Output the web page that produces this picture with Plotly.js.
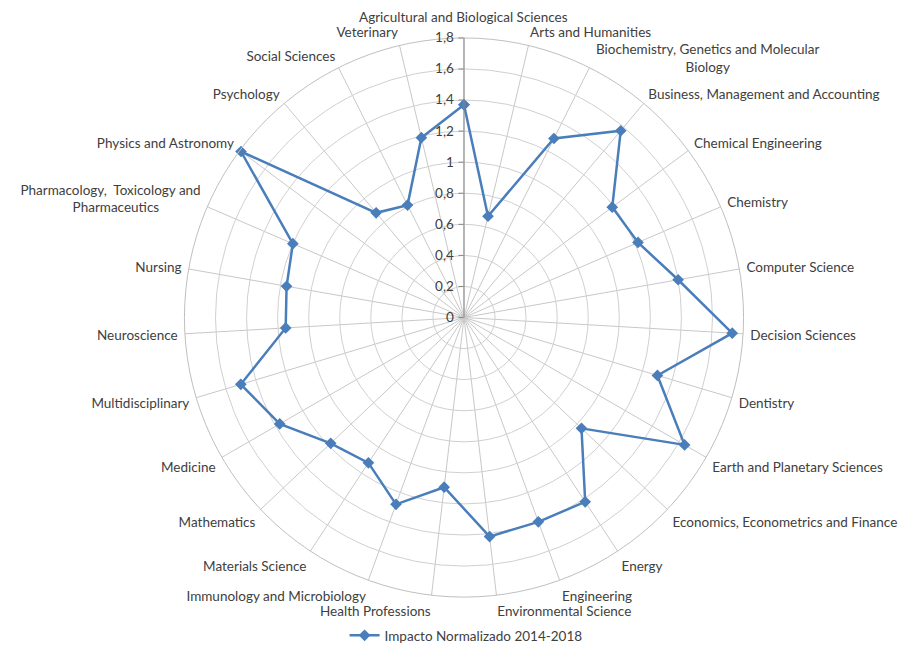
<!DOCTYPE html>
<html>
<head>
<meta charset="utf-8">
<script src="https://cdn.plot.ly/plotly-3.0.1.min.js"></script>
<style>html,body{margin:0;padding:0;background:#fff;}#chart{width:905px;height:651px;}</style>
</head>
<body>
<div id="chart"></div>
<script>
const categories = [
  "Agricultural and Biological Sciences",
  "Arts and Humanities",
  "Biochemistry, Genetics and Molecular Biology",
  "Business, Management and Accounting",
  "Chemical Engineering",
  "Chemistry",
  "Computer Science",
  "Decision Sciences",
  "Dentistry",
  "Earth and Planetary Sciences",
  "Economics, Econometrics and Finance",
  "Energy",
  "Engineering",
  "Environmental Science",
  "Health Professions",
  "Immunology and Microbiology",
  "Materials Science",
  "Mathematics",
  "Medicine",
  "Multidisciplinary",
  "Neuroscience",
  "Nursing",
  "Pharmacology,  Toxicology and Pharmaceutics",
  "Physics and Astronomy",
  "Psychology",
  "Social Sciences",
  "Veterinary"
];
const NB = "\u00a0";
const tickLabels = [
  "",
  "Arts and Humanities",
  "",
  "Business, Management and Accounting",
  "Chemical Engineering",
  "Chemistry",
  "Computer Science",
  "Decision Sciences",
  "Dentistry",
  "Earth and Planetary Sciences",
  "Economics, Econometrics and Finance",
  "Energy",
  "Engineering",
  "Environmental Science",
  "Health Professions",
  "Immunology and Microbiology",
  "Materials Science",
  "Mathematics",
  "Medicine",
  "Multidisciplinary",
  "Neuroscience",
  "Nursing",
  "Pharmacology,  Toxicology and<br>Pharmaceutics" + NB.repeat(12),
  "Physics and Astronomy",
  "Psychology",
  "Social Sciences",
  "Veterinary"
];
const topLabel = "Agricultural and Biological Sciences";
const biochemLabel = "Biochemistry, Genetics and Molecular<br>Biology";
const seriesName = "Impacto Normalizado 2014-2018";
const values = [1.37, 0.67, 1.29, 1.57, 1.19, 1.22, 1.40, 1.73, 1.30, 1.64, 1.04, 1.42, 1.40, 1.42, 1.10, 1.28, 1.12, 1.18, 1.37, 1.50, 1.15, 1.16, 1.20, 1.79, 0.88, 0.81, 1.19];
const radialTicks = [0, 0.2, 0.4, 0.6, 0.8, 1, 1.2, 1.4, 1.6, 1.8];

const trace = {
  type: "scatterpolar",
  mode: "lines+markers",
  name: seriesName,
  r: values.concat([values[0]]),
  theta: categories.concat([categories[0]]),
  line: {color: "#4a7ebb", width: 2.5},
  marker: {symbol: "diamond", size: 9, color: "#4a7ebb"},
  showlegend: true
};

const labelFont = {size: 13.5, color: "#404040"};
const layout = {
  width: 905,
  height: 651,
  margin: {l: 0, r: 0, t: 0, b: 0},
  paper_bgcolor: "#ffffff",
  separators: ", ",
  font: {family: "Lato, 'Open Sans', sans-serif", size: 13.5, color: "#404040"},
  showlegend: true,
  legend: {orientation: "h", x: 0.515, xanchor: "center", y: 0.023, yanchor: "middle", font: labelFont},
  annotations: [
    {text: topLabel, showarrow: false, xref: "paper", yref: "paper", x: 0.5127, y: 0.974,
     xanchor: "center", yanchor: "middle", font: labelFont},
    {text: biochemLabel, showarrow: false, xref: "paper", yref: "paper", x: 0.7823, y: 0.9109,
     xanchor: "center", yanchor: "middle", align: "center", font: labelFont}
  ],
  polar: {
    domain: {x: [0.2033, 0.8221], y: [0.0814, 0.9416]},
    bgcolor: "#ffffff",
    angularaxis: {
      type: "category",
      categoryarray: categories,
      tickvals: categories,
      ticktext: tickLabels,
      direction: "clockwise",
      rotation: 90,
      showline: true,
      linecolor: "#bfbfbf",
      linewidth: 1,
      gridcolor: "#c8c8c8",
      ticks: "outside",
      ticklen: 4,
      tickcolor: "rgba(0,0,0,0)",
      tickfont: labelFont
    },
    radialaxis: {
      range: [0, 1.8],
      tickvals: radialTicks,
      ticktext: radialTicks.map(v => String(v).replace(".", ",")),
      angle: 90,
      side: "counterclockwise",
      showline: true,
      linecolor: "#868686",
      linewidth: 1,
      gridcolor: "#d0d0d0",
      ticks: "outside",
      ticklen: 5,
      tickcolor: "#868686",
      tickangle: 90,
      tickfont: labelFont
    }
  }
};

Plotly.newPlot("chart", [trace], layout, {displayModeBar: false, staticPlot: true});
</script>
</body>
</html>
